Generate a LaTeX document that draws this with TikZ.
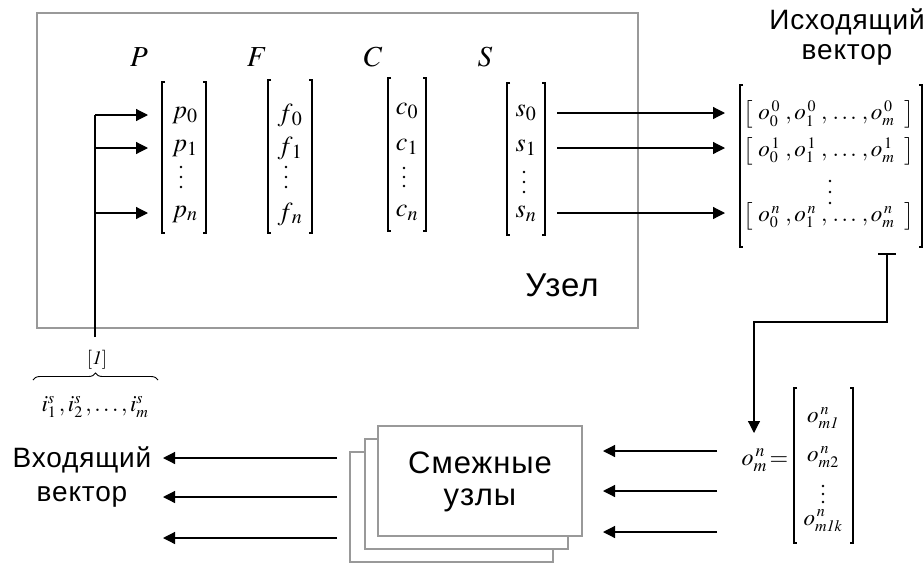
\documentclass[tikz,border=0pt]{standalone}
\usepackage{mathptmx}
\usepackage[no-math]{fontspec}
\setmainfont{Liberation Serif}
\newfontfamily\labelfont[LetterSpace=3]{Liberation Sans}
\usetikzlibrary{arrows.meta,decorations.pathreplacing}

% larger script sizes for the vector entries
\DeclareMathSizes{26}{26}{20}{16}
\DeclareMathSizes{23}{23}{16}{12}

% square brackets drawn as thin lines with short arms
\newcommand\vecbrackets[4]{%
  \draw[bracket] (#1+3,#3) -- (#1,#3) -- (#1,#4) -- (#1+3,#4);
  \draw[bracket] (#2-3,#3) -- (#2,#3) -- (#2,#4) -- (#2-3,#4);}
% three vertical dots centred at x, from y1 to y3
\newcommand\vdotcol[4]{%
  \fill (#1,#2) circle (1.3pt) (#1,#3) circle (1.3pt) (#1,#4) circle (1.3pt);}
% one row of the output vector
\newcommand\outrow[1]{$\big[\;o_0^{\,#1}\;,o_1^{\,#1}\;,\,\ldots\,,o_m^{\,#1}\;\;\big]$}

\tikzset{
  frame/.style={draw=black!40, line width=1.2pt},
  bracket/.style={line width=1.3pt},
  conn/.style={line width=1.2pt},
  arr/.style={conn, -{Triangle[length=12pt,width=12pt]}},
  rulabel/.style={font=\labelfont\fontsize{28}{30}\selectfont, inner sep=0pt},
  varlabel/.style={font=\fontsize{29}{32}\selectfont, inner sep=0pt},
  entry/.style={font=\fontsize{26}{30}\selectfont, inner sep=0pt},
  rowentry/.style={font=\fontsize{23}{26}\selectfont, inner sep=0pt},
}

\begin{document}
\begin{tikzpicture}[x=1pt,y=-1pt]
\useasboundingbox (0,0) rectangle (924,563);

% node frame
\draw[frame] (37,13) rectangle (638,328);
\node[rulabel, font=\labelfont\fontsize{33}{35}\selectfont] (uzel) at (562,285) {Узел};

% column labels
\node[varlabel] (P) at (139,57) {$P$};
\node[varlabel] (F) at (257,57) {$F$};
\node[varlabel] (C) at (373,57) {$C$};
\node[varlabel] (S) at (485,57) {$S$};

% P vector
\vecbrackets{162}{206}{82}{233}
\node[entry] (p0) at (185,115) {$p_0$};
\node[entry] (p1) at (185,148) {$p_1$};
\vdotcol{181}{167}{177}{187}
\node[entry] (pn) at (185,214) {$p_n$};

% F vector
\vecbrackets{268}{312}{80}{233}
\node[entry] (f0) at (290,115) {$f_{\,0}$};
\node[entry] (f1) at (290,148) {$f_{\,1}$};
\vdotcol{286}{167}{177}{187}
\node[entry] (fn) at (290,214) {$f_{\,n}$};

% C vector
\vecbrackets{388}{426}{78}{231}
\node[entry] (c0) at (407,111) {$c_0$};
\node[entry] (c1) at (407,147) {$c_1$};
\vdotcol{404}{168}{177}{186}
\node[entry] (cn) at (407,213) {$c_n$};

% S vector
\vecbrackets{507}{545}{83}{235}
\node[entry] (s0) at (526,113) {$s_0$};
\node[entry] (s1) at (526,148) {$s_1$};
\vdotcol{524}{172}{182}{192}
\node[entry] (sn) at (526,214) {$s_n$};

% input bus into P
\coordinate (jt) at (95,115);
\coordinate (j1) at (95,148);
\coordinate (jn) at (95,213);
\coordinate (jb) at (95,337);
\coordinate (pa0) at (148,115);
\coordinate (pa1) at (148,148);
\coordinate (pan) at (148,213);
\draw[conn] (jb) -- (jt);
\draw[arr] (jt) -- (pa0);
\draw[arr] (j1) -- (pa1);
\draw[arr] (jn) -- (pan);

% input set under the bus
\node[entry, font=\fontsize{19}{22}\selectfont] (idx) at (97,360) {$[\mathit{1}]$};
\draw[decorate, decoration={brace, amplitude=7pt}, line width=0.9pt] (33,380) -- (158,380);
\node[entry, font=\fontsize{23}{26}\selectfont] (iset) at (95,407) {$i_1^s\,,i_2^s\,,\ldots,i_m^s$};

% output vector
\node[rulabel] (outA) at (847,22) {Исходящий};
\node[rulabel] (outB) at (847,55) {вектор};
\vecbrackets{740}{922}{85}{247}
\node[rowentry] (r0) at (829,114) {\outrow{0}};
\node[rowentry] (r1) at (829,151) {\outrow{1}};
\vdotcol{830}{181}{192}{203}
\node[rowentry] (rn) at (829,216) {\outrow{n}};

\coordinate (sa0) at (557,113);
\coordinate (sa1) at (557,148);
\coordinate (san) at (557,213);
\coordinate (oa0) at (725,113);
\coordinate (oa1) at (725,148);
\coordinate (oan) at (725,213);
\draw[arr] (sa0) -- (oa0);
\draw[arr] (sa1) -- (oa1);
\draw[arr] (san) -- (oan);

% tap from the last output row
\coordinate (tl) at (878,254);
\coordinate (tr) at (896,254);
\coordinate (tm) at (887,254);
\coordinate (bend) at (887,322);
\coordinate (tip) at (754,433);
\draw[conn] (tl) -- (tr);
\draw[arr] (tm) -- (bend) -| (tip);

% element of the output vector
\node[entry, font=\fontsize{24}{28}\selectfont] (om) at (765,460) {$o_m^{\,n}\!=$};
\vecbrackets{794}{853}{388}{543}
\node[rowentry] (e1) at (823,418) {$o_{m\mathit{1}}^{\,n}$};
\node[rowentry] (e2) at (823,457) {$o_{m2}^{\,n}$};
\vdotcol{823}{486}{494}{502}
\node[rowentry] (ek) at (823,521) {$o_{m\mathit{1}k}^{\,n}$};

% adjacent nodes (stacked)
\draw[frame, fill=white] (350,452) rectangle (553,562);
\draw[frame, fill=white] (365,439) rectangle (568,549);
\draw[frame, fill=white] (378,426) rectangle (582,536);
\node[rulabel, font=\labelfont\fontsize{31}{33}\selectfont] (adjA) at (480,463) {Смежные};
\node[rulabel, font=\labelfont\fontsize{31}{33}\selectfont] (adjB) at (480,500) {узлы};

\coordinate (ea1) at (717,451);
\coordinate (ea2) at (717,491);
\coordinate (ea3) at (717,532);
\coordinate (na1) at (603,451);
\coordinate (na2) at (603,491);
\coordinate (na3) at (603,532);
\draw[arr] (ea1) -- (na1);
\draw[arr] (ea2) -- (na2);
\draw[arr] (ea3) -- (na3);

% incoming vector
\node[rulabel] (inA) at (82,460) {Входящий};
\node[rulabel] (inB) at (82,497) {вектор};
\coordinate (ba1) at (337,458);
\coordinate (ba2) at (337,497);
\coordinate (ba3) at (337,538);
\coordinate (ia1) at (163,458);
\coordinate (ia2) at (163,497);
\coordinate (ia3) at (163,538);
\draw[arr] (ba1) -- (ia1);
\draw[arr] (ba2) -- (ia2);
\draw[arr] (ba3) -- (ia3);
\end{tikzpicture}
\end{document}
